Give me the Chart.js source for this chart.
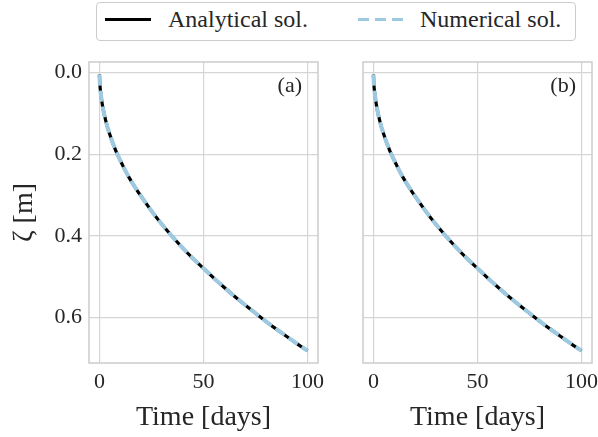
<!DOCTYPE html>
<html>
<head>
<meta charset="utf-8">
<script src="https://cdn.jsdelivr.net/npm/chart.js@4.4.1/dist/chart.umd.min.js"></script>
<style>
  body { margin: 0; background: #fff; }
  #wrap { position: relative; width: 598px; height: 437px; overflow: hidden; font-family: "Liberation Serif", serif; color: #262626; }
  canvas { position: absolute; }
  #legend { position: absolute; left: 96px; top: 2px; width: 478px; height: 37px; border: 1.5px solid #cccccc; border-radius: 4px; }
  .sample { position: absolute; top: 14.5px; height: 3px; }
  .label { position: absolute; top: 3.5px; font-size: 24px; line-height: 24px; white-space: nowrap; }
</style>
</head>
<body>
<div id="wrap">
  <div id="legend">
    <div class="sample" style="left:8px;width:46px;background:#000;"></div>
    <div class="label" style="left:71px;">Analytical sol.</div>
    <div class="sample" style="left:261px;width:45px;background:repeating-linear-gradient(to right,#9ecae1 0 11px,transparent 11px 17px);"></div>
    <div class="label" style="left:323px;">Numerical sol.</div>
  </div>
  <canvas id="chartA" width="330" height="387" style="left:0;top:50px;"></canvas>
  <canvas id="chartB" width="268" height="387" style="left:330px;top:50px;"></canvas>
</div>
<script>
// values
const timeDays = [0, 0.25, 0.5, 1, 2, 3, 4, 5, 6, 7, 8, 10, 12, 14, 16, 18, 20, 25, 30, 35, 40, 45, 50, 55, 60, 65, 70, 75, 80, 85, 90, 95, 100];
const analyticalA = [0.005, 0.03, 0.045, 0.065, 0.095, 0.117, 0.136, 0.152, 0.167, 0.18, 0.193, 0.215, 0.236, 0.255, 0.272, 0.288, 0.303, 0.339, 0.372, 0.402, 0.43, 0.456, 0.48, 0.504, 0.527, 0.549, 0.57, 0.59, 0.61, 0.629, 0.647, 0.665, 0.682];
const numericalA  = [0.005, 0.03, 0.045, 0.065, 0.095, 0.117, 0.136, 0.152, 0.167, 0.18, 0.193, 0.215, 0.236, 0.255, 0.272, 0.288, 0.303, 0.339, 0.372, 0.402, 0.43, 0.456, 0.48, 0.504, 0.527, 0.549, 0.57, 0.59, 0.61, 0.629, 0.647, 0.665, 0.682];
const analyticalB = [0.005, 0.03, 0.045, 0.065, 0.095, 0.117, 0.136, 0.152, 0.167, 0.18, 0.193, 0.215, 0.236, 0.255, 0.272, 0.288, 0.303, 0.339, 0.372, 0.402, 0.43, 0.456, 0.48, 0.504, 0.527, 0.549, 0.57, 0.59, 0.61, 0.629, 0.647, 0.665, 0.682];
const numericalB  = [0.005, 0.03, 0.045, 0.065, 0.095, 0.117, 0.136, 0.152, 0.167, 0.18, 0.193, 0.215, 0.236, 0.255, 0.272, 0.288, 0.303, 0.339, 0.372, 0.402, 0.43, 0.456, 0.48, 0.504, 0.527, 0.549, 0.57, 0.59, 0.61, 0.629, 0.647, 0.665, 0.682];
const xTicks = [0, 50, 100];
const yTicks = [0.0, 0.2, 0.4, 0.6];

const FONT = '"Liberation Serif", serif';
const TEXT = '#262626';
const GRID = '#d5d5d5';

const framePlugin = {
    id: 'frame',
    beforeDatasetsDraw(chart, args, opts) {
        const { ctx, chartArea: a } = chart;
        ctx.save();
        ctx.strokeStyle = '#cccccc';
        ctx.lineWidth = 1.5;
        ctx.strokeRect(a.left, a.top, a.right - a.left, a.bottom - a.top);
        ctx.restore();
    },
    afterDraw(chart, args, opts) {
        const { ctx, chartArea: a } = chart;
        ctx.save();
        ctx.font = '22px ' + FONT;
        ctx.fillStyle = TEXT;
        ctx.textAlign = 'right';
        ctx.textBaseline = 'alphabetic';
        ctx.fillText(opts.label, a.right - 16, a.top + 30);
        ctx.restore();
    }
};

function pts(ys) {
    return timeDays.map((t, i) => ({ x: t, y: ys[i] }));
}

function makeChart(id, analytical, numerical, label, showY, yWidth, padRight) {
    const canvas = document.getElementById(id);
    return new Chart(canvas.getContext('2d'), {
        type: 'line',
        data: {
            datasets: [{
                label: 'Analytical sol.',
                data: pts(analytical),
                borderColor: '#000000',
                borderWidth: 3.2,
                pointRadius: 0,
                cubicInterpolationMode: 'monotone',
                order: 2
            }, {
                label: 'Numerical sol.',
                data: pts(numerical),
                borderColor: '#9ecae1',
                borderWidth: 4,
                borderDash: [11, 5],
                pointRadius: 0,
                cubicInterpolationMode: 'monotone',
                order: 1
            }]
        },
        options: {
            responsive: false,
            devicePixelRatio: 1,
            animation: false,
            layout: { padding: { top: 12, right: padRight, left: 0, bottom: 0 } },
            plugins: {
                legend: { display: false },
                tooltip: { enabled: false },
                frame: { label: label }
            },
            scales: {
                x: {
                    type: 'linear',
                    min: -5,
                    max: 105,
                    afterBuildTicks: axis => { axis.ticks = xTicks.map(v => ({ value: v })); },
                    afterFit: axis => { axis.height = 74; axis.paddingLeft = 0; axis.paddingRight = 0; },
                    grid: { color: GRID, lineWidth: 1.2, drawTicks: false },
                    border: { display: false },
                    ticks: { color: TEXT, padding: 6, font: { family: FONT, size: 22 }, maxRotation: 0 },
                    title: { display: true, text: 'Time [days]', color: TEXT, padding: { top: 0, bottom: 3 }, font: { family: FONT, size: 28 } }
                },
                y: {
                    type: 'linear',
                    reverse: true,
                    min: -0.026,
                    max: 0.712,
                    afterBuildTicks: axis => { axis.ticks = yTicks.map(v => ({ value: v })); },
                    afterFit: axis => { axis.width = yWidth; axis.paddingTop = 0; axis.paddingBottom = 0; },
                    grid: { color: GRID, lineWidth: 1.2, drawTicks: false },
                    border: { display: false },
                    ticks: { display: showY, color: TEXT, padding: 7, font: { family: FONT, size: 22 }, callback: v => v.toFixed(1) },
                    title: { display: showY, text: 'ζ [m]', color: TEXT, padding: { top: 8, bottom: 0 }, font: { family: FONT, size: 28 } }
                }
            }
        },
        plugins: [framePlugin]
    });
}

makeChart('chartA', analyticalA, numericalA, '(a)', true, 89, 12);
makeChart('chartB', analyticalB, numericalB, '(b)', false, 33, 6);
</script>
</body>
</html>
